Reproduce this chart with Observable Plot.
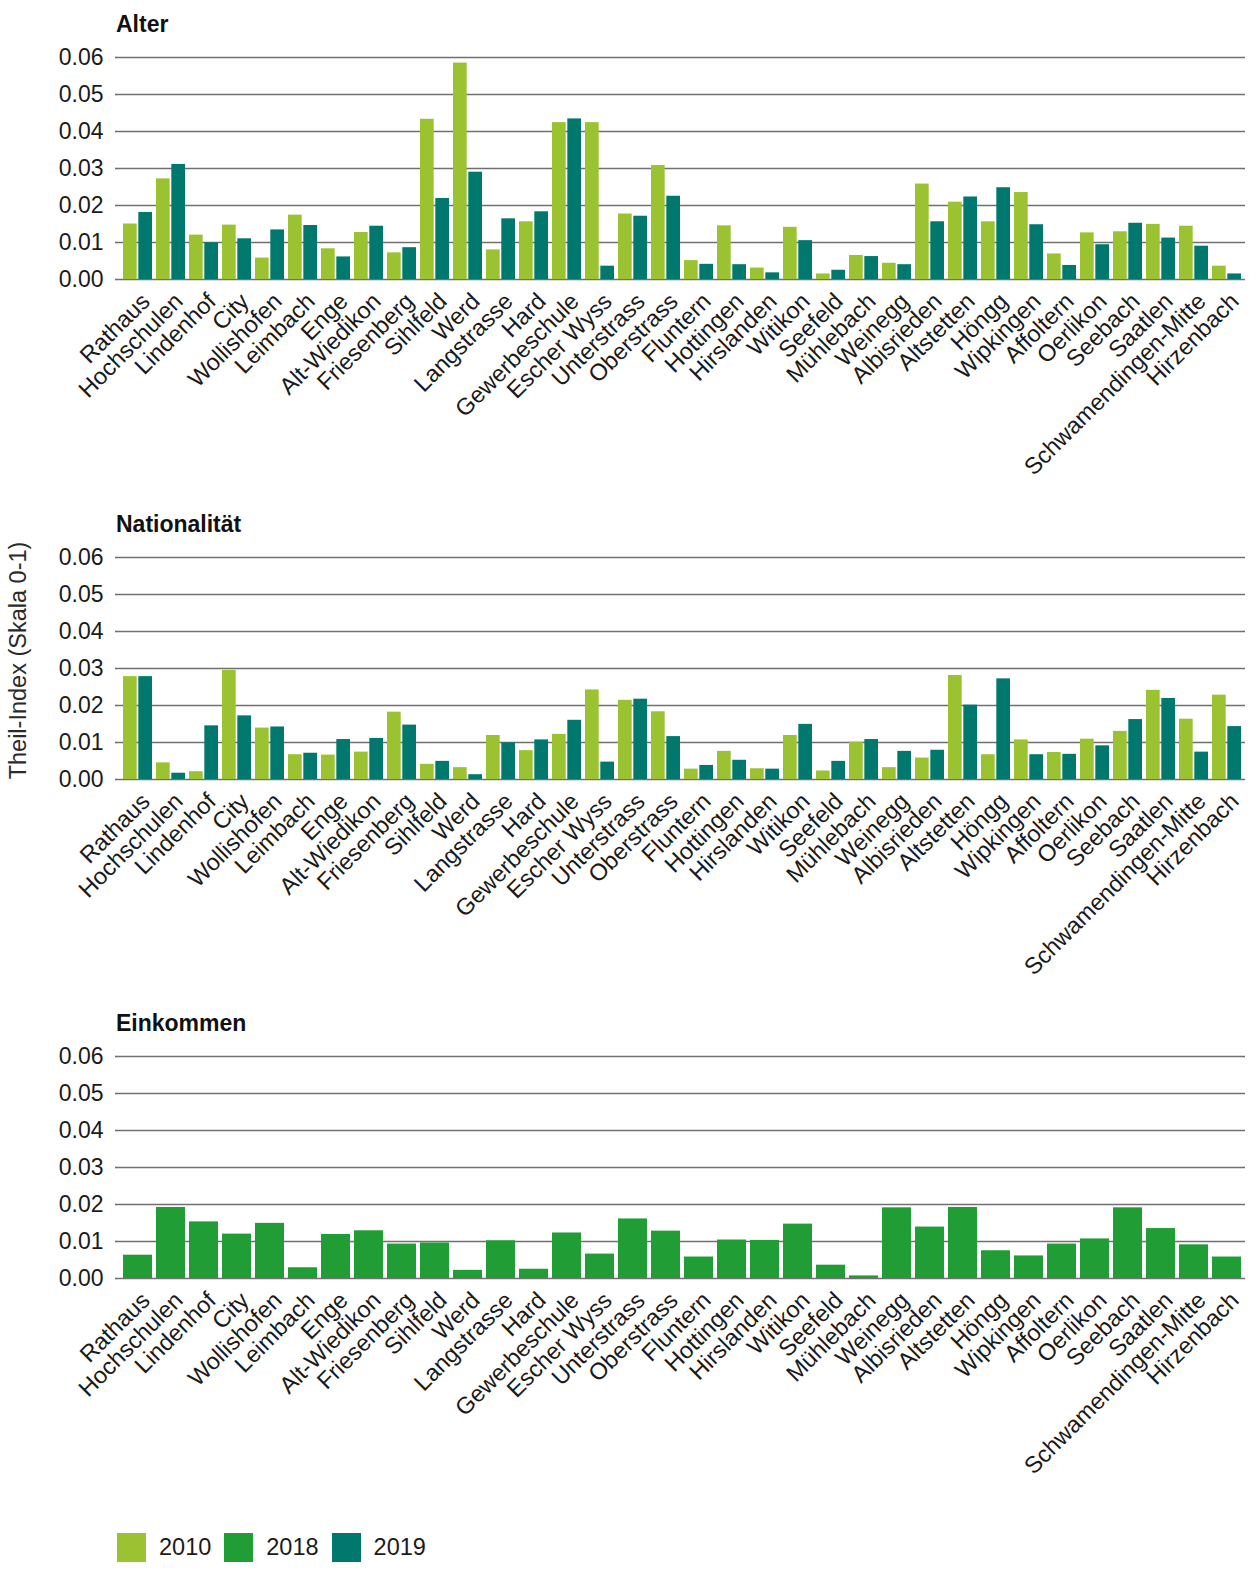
<!DOCTYPE html>
<html>
<head>
<meta charset="utf-8">
<script src="https://cdn.jsdelivr.net/npm/d3@7"></script>
<script src="https://cdn.jsdelivr.net/npm/@observablehq/plot@0.6"></script>
<style>
  body { margin: 0; background: #fff; font-family: "Liberation Sans", Arial, sans-serif; color: #1a1a1a; }
  #wrap { position: relative; width: 1260px; height: 1575px; overflow: hidden; }
  .title { position: absolute; left: 116px; font-weight: bold; font-size: 23px; line-height: 23px; color: #111; }
  .panel { position: absolute; left: 0; }
  #legend { position: absolute; left: 117px; top: 1533px; display: flex; align-items: center; font-size: 23.5px; }
  #legend .item { display: flex; align-items: center; margin-right: 13px; }
  #legend .sw { width: 29px; height: 29px; margin-right: 13px; }
</style>
</head>
<body>
<div id="wrap"></div>
<script>
const names = ["Rathaus","Hochschulen","Lindenhof","City","Wollishofen","Leimbach","Enge","Alt-Wiedikon","Friesenberg","Sihlfeld","Werd","Langstrasse","Hard","Gewerbeschule","Escher Wyss","Unterstrass","Oberstrass","Fluntern","Hottingen","Hirslanden","Witikon","Seefeld","Mühlebach","Weinegg","Albisrieden","Altstetten","Höngg","Wipkingen","Affoltern","Oerlikon","Seebach","Saatlen","Schwamendingen-Mitte","Hirzenbach"];

const alter2010 = [0.0150,0.0272,0.0120,0.0147,0.0058,0.0174,0.0083,0.0127,0.0072,0.0433,0.0585,0.0080,0.0156,0.0424,0.0424,0.0177,0.0308,0.0051,0.0145,0.0031,0.0141,0.0015,0.0065,0.0044,0.0258,0.0209,0.0156,0.0235,0.0069,0.0126,0.0129,0.0149,0.0144,0.0036];
const alter2019 = [0.0181,0.0311,0.0099,0.0110,0.0134,0.0146,0.0061,0.0144,0.0086,0.0219,0.0290,0.0164,0.0183,0.0434,0.0036,0.0171,0.0225,0.0041,0.0040,0.0018,0.0105,0.0025,0.0062,0.0040,0.0156,0.0223,0.0248,0.0148,0.0038,0.0094,0.0152,0.0112,0.0090,0.0015];

const nat2010 = [0.0278,0.0045,0.0021,0.0295,0.0139,0.0067,0.0066,0.0074,0.0182,0.0041,0.0032,0.0119,0.0078,0.0122,0.0242,0.0214,0.0183,0.0028,0.0076,0.0029,0.0119,0.0023,0.0101,0.0032,0.0058,0.0281,0.0067,0.0107,0.0073,0.0109,0.0130,0.0241,0.0163,0.0228];
const nat2019 = [0.0278,0.0017,0.0145,0.0172,0.0142,0.0071,0.0108,0.0111,0.0147,0.0049,0.0013,0.0099,0.0107,0.0160,0.0047,0.0217,0.0116,0.0038,0.0052,0.0028,0.0149,0.0049,0.0108,0.0076,0.0079,0.0201,0.0272,0.0067,0.0068,0.0091,0.0162,0.0219,0.0074,0.0143];

const eink2018 = [0.0063,0.0192,0.0153,0.0120,0.0149,0.0029,0.0119,0.0129,0.0093,0.0096,0.0022,0.0102,0.0025,0.0123,0.0066,0.0161,0.0128,0.0058,0.0104,0.0103,0.0147,0.0036,0.0007,0.0191,0.0139,0.0192,0.0075,0.0061,0.0093,0.0107,0.0191,0.0135,0.0091,0.0058];

const yTicks = [0, 0.01, 0.02, 0.03, 0.04, 0.05, 0.06];
const years = ["2010", "2018", "2019"];
const colors = ["#9bc230", "#209e35", "#00786d"];

const panels = [
  {title: "Alter", series: [["2010", alter2010], ["2019", alter2019]]},
  {title: "Nationalität", series: [["2010", nat2010], ["2019", nat2019]], ylabel: "Theil-Index (Skala 0-1)"},
  {title: "Einkommen", series: [["2018", eink2018]]}
];

const W = 1260, ML = 118, MR = 15, MT = 17, FH = 222, MB = 215;
const padIn = 0.13, padOut = 0.07;
const frameW = W - ML - MR;
const step = frameW / (names.length - padIn + 2 * padOut);
const bw = step * (1 - padIn);
const gap = 1.8;
const pitch = 499.5;

const wrap = document.getElementById("wrap");

panels.forEach((p, i) => {
  const t = document.createElement("div");
  t.className = "title";
  t.style.top = (13 + pitch * i) + "px";
  t.textContent = p.title;
  wrap.appendChild(t);

  const k = p.series.length;
  const barMarks = p.series.map(([yr, vals], j) => {
    const rows = names.map((n, idx) => ({name: n, value: vals[idx], year: yr}));
    let insetLeft = 0, insetRight = 0;
    if (k === 2) {
      if (j === 0) insetRight = bw / 2 + gap / 2;
      else insetLeft = bw / 2 + gap / 2;
    }
    return Plot.barY(rows, {x: "name", y: "value", fill: "year", insetLeft, insetRight});
  });

  const extra = p.ylabel
    ? [Plot.text([p.ylabel], {frameAnchor: "left", rotate: -90, lineAnchor: "top", textAnchor: "middle", dx: -(ML - 9), dy: -8, fontSize: 23.5, fill: "#2a2a2a"})]
    : [];

  const svg = Plot.plot({
    width: W,
    height: MT + FH + MB,
    marginLeft: ML,
    marginRight: MR,
    marginTop: MT,
    marginBottom: MB,
    style: {fontFamily: "Liberation Sans, Arial, sans-serif", fontSize: "23px", color: "#1a1a1a", background: "transparent"},
    x: {domain: names, paddingInner: padIn, paddingOuter: padOut},
    y: {domain: [0, 0.06]},
    color: {domain: years, range: colors},
    marks: [
      Plot.gridY(yTicks, {stroke: "#707070", strokeOpacity: 1, strokeWidth: 1.6}),
      Plot.axisY({
        ticks: yTicks, tickFormat: d3.format(".2f"), tickSize: 3, tickPadding: 12,
        stroke: "#707070", strokeWidth: 1.6, fill: "#1a1a1a", label: null
      }),
      Plot.axisX({tickRotate: -45, tickSize: 0, tickPadding: 18, dx: 8, label: null, fill: "#1a1a1a", fontSize: 23.5}),
      ...extra,
      ...barMarks
    ]
  });
  svg.classList.add("panel");
  svg.style.top = (40 + pitch * i) + "px";
  wrap.appendChild(svg);
});

const legend = document.createElement("div");
legend.id = "legend";
years.forEach((y, i) => {
  const it = document.createElement("div");
  it.className = "item";
  const sw = document.createElement("div");
  sw.className = "sw";
  sw.style.background = colors[i];
  const lab = document.createElement("span");
  lab.textContent = y;
  it.appendChild(sw);
  it.appendChild(lab);
  legend.appendChild(it);
});
wrap.appendChild(legend);
</script>
</body>
</html>
